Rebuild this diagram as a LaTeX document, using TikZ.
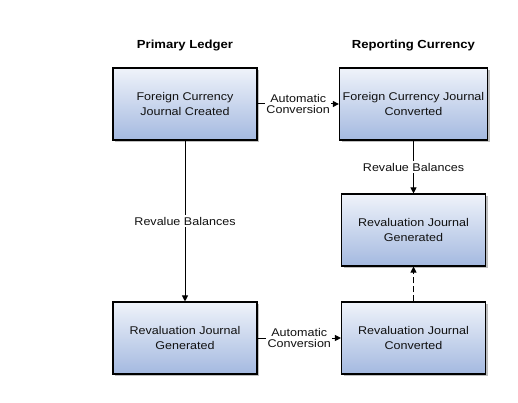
\documentclass[tikz,border=0pt]{standalone}
\usepackage{fontspec}
\setmainfont{Liberation Sans}[FakeStretch=1.12]
\usetikzlibrary{arrows.meta,shadows}
\definecolor{boxtop}{HTML}{EFF3FA}
\definecolor{boxbot}{HTML}{A4B9E0}
\definecolor{txt}{HTML}{111111}
\tikzset{
  box/.style={draw=black, line width=1.1pt, minimum width=144pt, minimum height=72pt,
    top color=boxtop, bottom color=boxbot, align=center, text=txt,
    font=\fontsize{11.2}{14.4}\selectfont,
    drop shadow={shadow xshift=2.2pt, shadow yshift=-2.2pt, fill=black!25, opacity=1}},
  title/.style={font=\bfseries\fontsize{11.7}{13}\selectfont, text=black},
  conn/.style={line width=1pt, -{Triangle[length=6pt,width=6pt]}},
  lab/.style={fill=white, inner sep=1.5pt, align=center, text=txt,
    font=\fontsize{11.2}{11.8}\selectfont}
}
\begin{document}
\begin{tikzpicture}[x=1pt,y=1pt]
\useasboundingbox[fill=white] (0,0) rectangle (518,-403);
\node[title] (t1) at (185,-46) {Primary Ledger};
\node[title] (t2) at (413.5,-46) {Reporting Currency};
\node[box] (a) at (185,-104) {Foreign Currency\\Journal Created};
\node[box] (b) at (413.5,-104) {Foreign Currency Journal\\Converted};
\node[box] (c) at (413.5,-230) {Revaluation Journal\\Generated};
\node[box] (d) at (185,-338) {Revaluation Journal\\Generated};
\node[box] (e) at (413.5,-338) {Revaluation Journal\\Converted};
\draw[conn] (a) -- node[lab] {Automatic\\Conversion} (b);
\draw[conn] (d) -- node[lab] {Automatic\\Conversion} (e);
\draw[conn] (a) -- node[lab, pos=0.5] {Revalue Balances} (d);
\draw[conn] (b) -- node[lab] {Revalue Balances} (c);
\draw[conn, dash pattern=on 6pt off 3pt] (e) -- (c);
\end{tikzpicture}
\end{document}
